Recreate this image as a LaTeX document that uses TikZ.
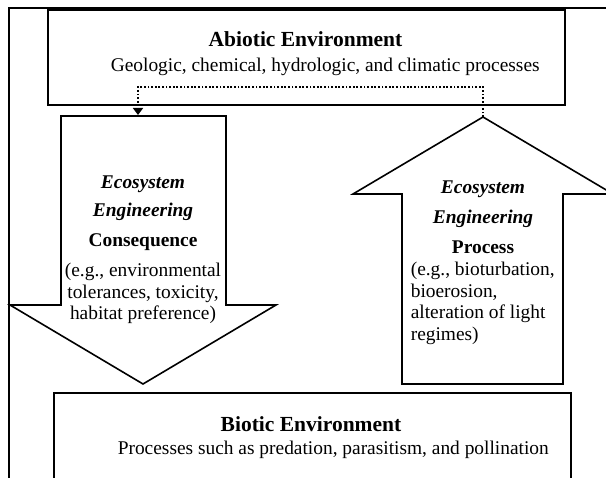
\documentclass[tikz,border=0pt]{standalone}
\usepackage{fontspec}
\setmainfont{Liberation Serif}
\usetikzlibrary{arrows.meta}

\begin{document}
\begin{tikzpicture}[x=1pt, y=-1pt, line width=1.6pt,
        envbox/.style = {draw, rectangle, inner sep=0pt, anchor=north west},
        bigarrow/.style = {draw, line join=miter},
        txt/.style = {inner sep=0pt, font=\fontsize{19.4}{21.5}\selectfont},
        head/.style = {inner sep=0pt, font=\fontsize{21.5}{24}\selectfont\bfseries},
        link/.style = {line width=2.6pt, dash pattern=on 1.8pt off 1.8pt, -{Triangle[width=10pt,length=7pt]}}]

            \useasboundingbox (0,0) rectangle (606,478);
            \clip (0,0) rectangle (606,478);

            % frame and the two environments
            \draw (9,8) rectangle (640,520);
            \node[envbox, minimum width=517pt, minimum height=95pt] (abio) at (47,9) {};
            \node[envbox, minimum width=517pt, minimum height=130pt] (bio) at (53,392) {};

            \node[head, anchor=base] (abiotitle) at (305.5,47) {Abiotic Environment};
            \node[txt, anchor=base west] (abiotext) at (110,72) {Geologic, chemical, hydrologic, and climatic processes};
            \node[head, anchor=base] (biotitle) at (311,432) {Biotic Environment};
            \node[txt, anchor=base west] (biotext) at (117,455) {Processes such as predation, parasitism, and pollination};

            % big arrows
            \draw[bigarrow] (61,116) coordinate (dntop) -- (226,116) -- (226,305) -- (276,305)
                -- (143,384) coordinate (dntip) -- (10,305) -- (61,305) -- cycle;
            \draw[bigarrow] (402,384) -- (402,194) -- (353,194) -- (483,117) coordinate (uptip)
                -- (613,194) -- (563,194) -- (563,384) -- cycle;
            \coordinate (dnin) at (138,115);

            \node[txt, anchor=north, align=center] (conseq) at (143,175)
                {\textbf{\textit{Ecosystem}}\\[6.5pt]
                 \textbf{\textit{Engineering}}\\[8.5pt]
                 \textbf{Consequence}\\[8.5pt]
                 (e.g., environmental\\
                 tolerances, toxicity,\\
                 habitat preference)};

            \node[txt, anchor=north, align=center] (procname) at (483,180)
                {\textbf{\textit{Ecosystem}}\\[8.5pt]
                 \textbf{\textit{Engineering}}\\[8.5pt]
                 \textbf{Process}};
            \node[txt, anchor=north west, align=left] (proctext) at (410,261.5)
                {(e.g., bioturbation,\\
                 bioerosion,\\
                 alteration of light\\
                 regimes)};

            % feedback between the two arrows
            \draw[link] (uptip) -- ++(0,-30) -| (dnin);

\end{tikzpicture}
\end{document}
